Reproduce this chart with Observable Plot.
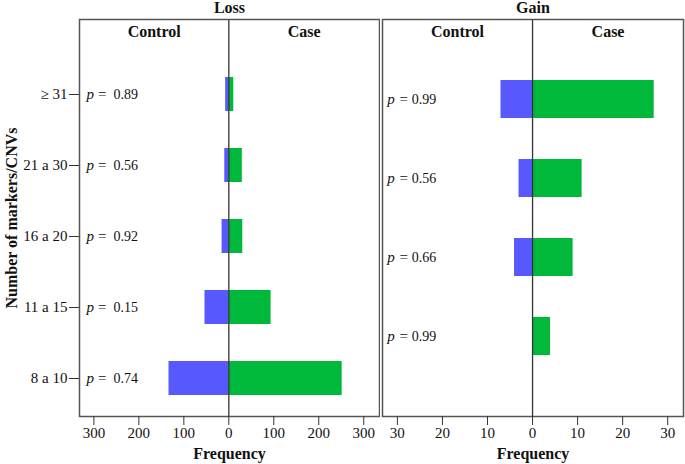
<!DOCTYPE html>
<html><head><meta charset="utf-8">
<script src="https://cdn.jsdelivr.net/npm/d3@7"></script>
<script src="https://cdn.jsdelivr.net/npm/@observablehq/plot@0.6"></script>
<style>
body{margin:0;background:#fff;}
#wrap{position:relative;width:685px;height:464px;overflow:hidden;background:#fff;}
#loss{position:absolute;left:0;top:0;}
#gain{position:absolute;left:380px;top:0;}
</style></head><body>
<div id="wrap"><div id="loss"></div><div id="gain"></div></div>
<script>
// Loss panel data
const lossCategories = ["≥ 31", "21 a 30", "16 a 20", "11 a 15", "8 a 10"];
const lossControl = [7, 9, 15, 53, 133];
const lossCase = [11, 30, 31, 94, 252];
const lossP = ["0.89", "0.56", "0.92", "0.15", "0.74"];
const lossTicks = [-300, -200, -100, 0, 100, 200, 300];

// Gain panel data
const gainCategories = ["≥ 31", "21 a 30", "16 a 20", "11 a 15"];
const gainControl = [7, 3, 4, 0];
const gainCase = [27, 11, 9, 4];
const gainP = ["0.99", "0.56", "0.66", "0.99"];
const gainTicks = [-30, -20, -10, 0, 10, 20, 30];

const BLUE = "#5858ff", GREEN = "#00b83a";
const FONT = "'Liberation Serif', 'Times New Roman', serif";

function panel(o) {
  const data = o.cats.map((c, i) => ({cat: c, control: o.control[i], cases: o.cases[i], p: o.p[i]}));
  const headers = [{label: "Control", x: o.xDomain[0] / 2}, {label: "Case", x: o.xDomain[1] / 2}];
  const marks = [
    Plot.barX(data, {y: "cat", x1: d => -d.control, x2: 0, fill: BLUE}),
    Plot.barX(data, {y: "cat", x1: 0, x2: "cases", fill: GREEN}),
    Plot.ruleX([0], {stroke: "#333", strokeWidth: 1.3}),
    Plot.frame({stroke: "#555", strokeWidth: 1.5}),
    Plot.axisX({ticks: o.ticks, tickFormat: d => Math.abs(d), tickSize: 9, tickPadding: 2, fontSize: 15, label: null, stroke: "#333"}),
    Plot.text(data, {y: "cat", frameAnchor: "left", text: () => "p", fontStyle: "italic", textAnchor: "start", lineAnchor: "middle", dx: o.pdx[0], fontSize: 15}),
    Plot.text(data, {y: "cat", frameAnchor: "left", text: () => "=", textAnchor: "start", lineAnchor: "middle", dx: o.pdx[1], fontSize: 15}),
    Plot.text(data, {y: "cat", frameAnchor: "left", text: "p", textAnchor: "start", lineAnchor: "middle", dx: o.pdx[2], fontSize: 14}),
    Plot.text(headers, {x: "x", frameAnchor: "top", text: "label", lineAnchor: "middle", dy: 12, fontWeight: "bold", fontSize: 16}),
    Plot.text([o.title], {frameAnchor: "top", text: d => d, lineAnchor: "middle", dy: -11.4, fontWeight: "bold", fontSize: 16}),
    Plot.text(["Frequency"], {frameAnchor: "bottom", text: d => d, lineAnchor: "middle", dy: 37, fontWeight: "bold", fontSize: 16})
  ];
  if (o.showY) marks.push(Plot.axisY({tickSize: 10, tickPadding: 2, fontSize: 15, label: null, stroke: "#333"}));
  if (o.yLabel) marks.push(Plot.text([o.yLabel], {frameAnchor: "left", text: d => d, textAnchor: "middle", lineAnchor: "middle", dx: -68, rotate: -90, fontWeight: "bold", fontSize: 16}));
  return Plot.plot({
    width: o.width, height: 464,
    marginLeft: o.marginLeft, marginRight: o.marginRight, marginTop: 19, marginBottom: 48,
    style: {fontFamily: FONT, fontSize: "14px", color: "#111", background: "#fff", overflow: "visible"},
    x: {domain: o.xDomain},
    y: Object.assign({domain: o.cats}, o.y),
    marks
  });
}

document.getElementById("loss").appendChild(panel({
  cats: lossCategories, control: lossControl, cases: lossCase, p: lossP,
  width: 381, marginLeft: 79, marginRight: 2, xDomain: [-332, 335], ticks: lossTicks,
  y: {paddingInner: 0.523, paddingOuter: 0.545, align: 0.733},
  pdx: [7, 18.5, 34], title: "Loss", yLabel: "Number of markers/CNVs", showY: true
}));
document.getElementById("gain").appendChild(panel({
  cats: gainCategories, control: gainControl, cases: gainCase, p: gainP,
  width: 305, marginLeft: 2, marginRight: 2, xDomain: [-33.3, 33.5], ticks: gainTicks,
  y: {paddingInner: 0.514, paddingOuter: 0.757, axis: null},
  pdx: [4.7, 17, 29.3], title: "Gain", yLabel: null, showY: false
}));
</script>
</body></html>
